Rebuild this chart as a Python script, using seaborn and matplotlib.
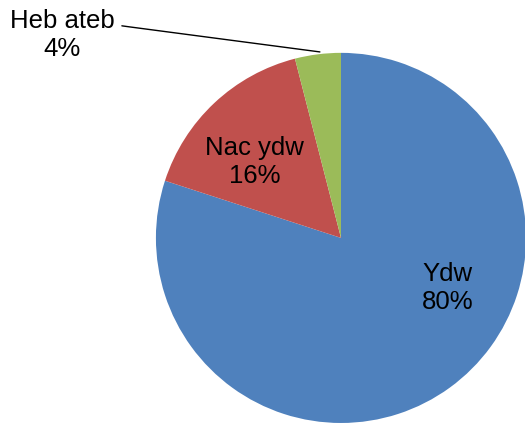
import seaborn as sns
import matplotlib.pyplot as plt

# Survey answers (Welsh)
labels = ['Ydw', 'Nac ydw', 'Heb ateb']
values = [80, 16, 4]
colors = ['#4F81BD', '#C0504D', '#9BBB59']

sns.set_style("white")
plt.rcParams['font.family'] = ['Liberation Sans', 'DejaVu Sans']

fig = plt.figure(figsize=(5.25, 4.25), dpi=100)
ax = fig.add_axes([0.297, 0.0047, 0.705, 0.871])

wedges, _ = ax.pie(values, colors=colors, startangle=90, counterclock=False,
                   radius=1, wedgeprops={'linewidth': 0})
ax.set_xlim(-1, 1)
ax.set_ylim(-1, 1)
ax.set_aspect('equal')
ax.axis('off')

fs = 18.5
kw = dict(ha='center', va='center', fontsize=fs, linespacing=1.2,
          color='black', clip_on=False)
ax.text(0.578, -0.27, f"{labels[0]}\n{values[0]}%", **kw)
ax.text(-0.465, 0.41, f"{labels[1]}\n{values[1]}%", **kw)
ax.text(-1.508, 1.097, f"{labels[2]}\n{values[2]}%", **kw)
ax.plot([-1.184, -1.14, -0.114], [1.146, 1.14, 1.005], color='black',
        linewidth=1, clip_on=False)

fig.savefig('out.png', dpi=100)
